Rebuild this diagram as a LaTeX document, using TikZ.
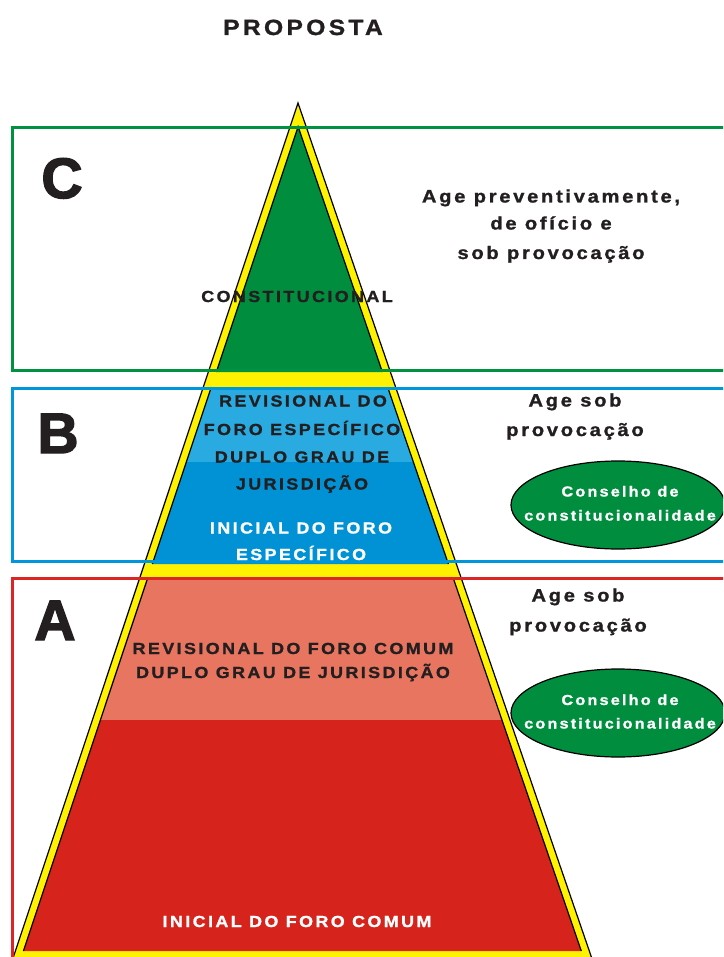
\documentclass[tikz,border=0pt]{standalone}
\usepackage{fontspec}
\setmainfont{Liberation Sans}
\newfontfamily\trk[LetterSpace=15,FakeStretch=1.12,FakeBold=1.2]{Liberation Sans Bold}
\newfontfamily\heavy[FakeBold=2.5]{Liberation Sans Bold}
\usetikzlibrary{shapes.geometric}
\definecolor{ink}{RGB}{35,31,32}
\definecolor{pyel}{RGB}{255,242,0}
\definecolor{pgreen}{RGB}{0,142,62}
\definecolor{gline}{RGB}{0,145,65}
\definecolor{bline}{RGB}{0,150,220}
\definecolor{lblue}{RGB}{41,171,226}
\definecolor{dblue}{RGB}{0,146,212}
\definecolor{salmon}{RGB}{232,117,95}
\definecolor{redfill}{RGB}{214,36,28}
\definecolor{rline}{RGB}{220,38,38}
\begin{document}
\begin{tikzpicture}[x=1pt,y=-1pt,
  edge/.style={draw=black,line width=1.2pt},
  band/.style={line width=3pt},
  bigletter/.style={font=\heavy\fontsize{57}{60}\selectfont,text=ink,anchor=base,inner sep=0pt},
  ttl/.style={font=\trk\fontsize{22}{24}\selectfont,text=ink,anchor=base,inner sep=0pt},
  side/.style={font=\trk\fontsize{18}{20}\selectfont,text=ink,anchor=base,inner sep=0pt},
  pyr/.style={font=\trk\fontsize{16}{18}\selectfont,text=ink,anchor=base,inner sep=0pt},
  pyrw/.style={pyr,text=white},
  conselho/.style={ellipse,draw=black,fill=pgreen,line width=1.2pt,minimum width=214pt,minimum height=88pt,inner sep=0pt},
  ctext/.style={font=\trk\fontsize{14.5}{16}\selectfont,text=white,anchor=base,inner sep=0pt}]
\useasboundingbox (0,0) rectangle (723,957);
\begin{scope}
\clip (0,0) rectangle (723,957);
\fill[white] (0,0) rectangle (723,957);
% pyramid
\coordinate (apex) at (298,103);
\coordinate (oBL) at (12.4,960);
\coordinate (oBR) at (592.4,960);
\fill[pyel] (apex) -- (oBR) -- (oBL) -- cycle;
\coordinate (gA) at (298.1,126.6);
\coordinate (gL) at (216.3,372);
\coordinate (gR) at (382.4,372);
\coordinate (b1L) at (211.3,387);
\coordinate (b1R) at (387.6,387);
\coordinate (b2L) at (186.3,462);
\coordinate (b2R) at (413.3,462);
\coordinate (b3L) at (152.3,564);
\coordinate (b3R) at (448.4,564);
\coordinate (r1L) at (147.7,578);
\coordinate (r1R) at (453.2,578);
\coordinate (r2L) at (100.4,720);
\coordinate (r2R) at (501.9,720);
\coordinate (r3L) at (23.4,951);
\coordinate (r3R) at (581.3,951);
\fill[pgreen] (gA) -- (gR) -- (gL) -- cycle;
\fill[lblue] (b1L) -- (b1R) -- (b2R) -- (b2L) -- cycle;
\fill[dblue] (b2L) -- (b2R) -- (b3R) -- (b3L) -- cycle;
\fill[salmon] (r1L) -- (r1R) -- (r2R) -- (r2L) -- cycle;
\fill[redfill] (r2L) -- (r2R) -- (r3R) -- (r3L) -- cycle;
\draw[edge] (gL) -- (gA) -- (gR);
\draw[edge] (b1L) -- (b3L);
\draw[edge] (b1R) -- (b3R);
\draw[edge] (r1L) -- (r3L);
\draw[edge] (r1R) -- (r3R);
\draw[edge] (oBL) -- (apex) -- (oBR);
% section frames
\draw[band,gline] (12,128) rectangle (740,370);
\draw[band,bline] (12,388) rectangle (740,561);
\draw[band,rline] (12,578) rectangle (740,990);
% ellipses
\node[conselho] (cons1) at (618,505) {};
\node[conselho] (cons2) at (618,713) {};
\end{scope}
% texts
\node[ttl] (title) at (303,35) {PROPOSTA};
\node[bigletter] (lc) at (62,198) {C};
\node[bigletter] (lb) at (58,453) {B};
\node[bigletter] (la) at (55,640) {A};
\node[side] (c1) at (551,202.5) {Age preventivamente,};
\node[side] (c2) at (551,229.5) {de ofício e};
\node[side] (c3) at (551,259) {sob provocação};
\node[side] (bs1) at (575,406.5) {Age sob};
\node[side] (bs2) at (575,436) {provocação};
\node[side] (as1) at (578,601.5) {Age sob};
\node[side] (as2) at (578,631.5) {provocação};
\node[ctext] (ct1a) at (620,496.5) {Conselho de};
\node[ctext] (ct1b) at (620,520.5) {constitucionalidade};
\node[ctext] (ct2a) at (620,705) {Conselho de};
\node[ctext] (ct2b) at (620,728.5) {constitucionalidade};
\node[pyr] (pc) at (297,302) {CONSTITUCIONAL};
\node[pyr] (pb1) at (303,406.5) {REVISIONAL DO};
\node[pyr] (pb2) at (302,435) {FORO ESPECÍFICO};
\node[pyr] (pb3) at (302,462.5) {DUPLO GRAU DE};
\node[pyr] (pb4) at (302,489.5) {JURISDIÇÃO};
\node[pyrw] (pb5) at (301,533.5) {INICIAL DO FORO};
\node[pyrw] (pb6) at (301,560) {ESPECÍFICO};
\node[pyr] (pa1) at (293,654) {REVISIONAL DO FORO COMUM};
\node[pyr] (pa2) at (293,678) {DUPLO GRAU DE JURISDIÇÃO};
\node[pyrw] (pa3) at (297,927) {INICIAL DO FORO COMUM};
\end{tikzpicture}
\end{document}
